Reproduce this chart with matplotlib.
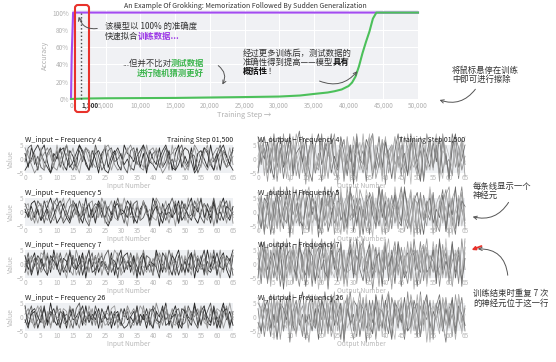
import matplotlib
matplotlib.use('Agg')
import matplotlib.pyplot as plt
import numpy as np
from matplotlib.patches import FancyArrowPatch, FancyBboxPatch
from matplotlib.transforms import IdentityTransform

plt.rcParams['font.family'] = ['Noto Sans CJK SC', 'DejaVu Sans']

# ---- top chart data ----
train_steps = [0, 100, 300, 50000]
train_acc = [0, 0.5, 1.0, 1.0]
test_steps = [0, 2000, 5000, 10000, 15000, 20000, 25000, 30000, 33000, 35000, 37000,
              38000, 39000, 40000, 40500, 41000, 41500, 42000, 42500, 43000, 43500,
              44000, 45000, 50000]
test_acc = [0, 0.005, 0.008, 0.01, 0.012, 0.017, 0.022, 0.028, 0.04, 0.058, 0.075,
            0.09, 0.11, 0.15, 0.19, 0.26, 0.38, 0.53, 0.66, 0.78, 0.93, 1.0, 1.0, 1.0]
step_ticks = [0, 1500, 5000, 10000, 15000, 20000, 25000, 30000, 35000, 40000, 45000, 50000]
step_labels = ['0', '1,500', '5,000', '10,000', '15,000', '20,000', '25,000', '30,000',
               '35,000', '40,000', '45,000', '50,000']
acc_ticks = [0, 0.2, 0.4, 0.6, 0.8, 1.0]
acc_labels = ['0%', '20%', '40%', '60%', '80%', '100%']

# ---- neuron weights at step 1,500 (one list per neuron) ----
in_f4 = [
    [2,-3,4,1,-4,3,5,-1,-5,2,0, 4,-2,-4,3,1,-3,5,2,-1,-4,3, 0,-5,2,4,-3,1,3,-2,-4,5,2, 1,-1,4,-3,2,-5,3,0,-2,4,-3, -1,3,-4,2,5,-3,1,-2,4,-4,2, 3,0,-3,5,-1,2,-4,3,1,-2,4],
    [-1,4,5,-2,1,-3,-4,2,4,-1,3, -3,1,5,-2,-4,0,3,-1,4,2,-3, 5,1,-4,-2,3,4,-1,0,2,-3,-5, 3,4,-2,1,5,-4,-1,2,3,-3,1, 4,-2,0,-4,3,5,-1,-3,2,1,-5, -2,4,3,-1,-4,2,5,0,-3,1,3],
    [4,1,-2,-5,-3,0,2,4,1,-3,-4, 0,3,5,1,-2,-4,-1,2,4,3,-1, -3,-2,1,4,5,2,-2,-4,-3,1,3, 5,2,-1,-3,-4,0,3,4,1,-2,-5, -3,1,2,4,3,-1,-4,-2,1,5,3, 0,-2,-4,-1,2,4,3,-1,-3,-2,1],
    [-4,-2,0,3,5,2,-1,-3,-5,-2,1, 3,4,0,-3,-1,2,5,3,-2,-4,-1, 2,3,0,-4,-5,-1,2,4,1,-2,0, -3,-4,1,3,5,2,-1,-2,-4,0,3, 5,1,-3,-4,-2,2,4,3,-1,-5,-3, 1,4,2,-2,-4,0,3,5,1,-2,-4],
    [0,3,-1,2,-2,4,-4,1,3,-3,5, -1,-4,2,0,4,-2,-5,1,3,-1,2, 4,-3,-1,5,2,-4,0,3,-2,1,4, -4,2,3,-1,-3,5,0,-2,4,1,-3, 2,-4,5,-1,0,3,-2,-4,1,4,-1, -3,2,5,-2,0,-4,1,3,-1,4,-2],
]
in_f5 = [
    [1,-2,3,4,0,-3,-1,2,5,1,-4, -2,3,0,-3,4,2,-1,-4,1,3,-2, 0,4,1,-3,-5,-2,2,3,-1,0,4, 2,-2,-4,1,3,0,-3,5,2,-1,-4, 1,3,-2,0,4,-3,-1,2,5,-2,-4, 0,3,1,-2,4,-4,2,5,-1,-3,2],
    [3,0,-3,-1,4,2,-4,1,-2,3,5, 0,-4,-2,2,3,-1,4,0,-3,-5,1, 3,2,-2,4,-1,-3,1,5,0,-4,2, -1,3,4,-3,-2,1,-5,2,4,-1,0, -3,2,5,1,-4,0,3,-2,-1,4,1, -2,-4,3,0,5,-1,-3,2,4,-2,0],
    [-2,1,0,-4,2,3,-1,-3,0,4,2, -1,-3,3,5,-2,1,-4,2,0,3,4, -3,-1,5,2,-4,0,1,-2,3,-1,-5, 4,1,-2,0,3,2,-4,-1,5,3,-2, 0,-4,1,4,-1,2,-3,5,0,-2,3, 4,-1,-3,2,-5,1,3,0,-2,4,-4],
    [0,-1,2,-2,1,-3,4,0,-4,-1,2, 4,1,-2,-4,0,3,-3,-1,5,-2,1, -4,3,0,-2,2,-1,4,-3,1,0,-2, 3,-4,2,-1,4,1,-3,0,2,-5,3, -1,0,-2,3,-4,4,1,-1,-3,2,0, 5,-2,1,-4,3,-1,0,-3,2,1,-1],
    [2,3,-3,0,-4,1,3,4,-2,-3,1, 2,5,-1,-2,4,0,-3,3,1,-4,-1, 2,-2,3,-4,1,4,-2,-3,0,5,1, -2,-1,3,-3,4,-1,1,-2,-3,2,0, 4,-2,1,-5,3,2,-1,-4,3,0,5, -1,3,-2,-1,2,-3,4,1,-4,3,-2],
]
in_f7 = [
    [3,-2,1,4,-4,2,-1,3,-3,5,-1, -4,2,1,-3,3,-2,0,4,-5,2,-1, 3,-3,1,0,-2,4,-4,2,5,-3,1, -1,3,-5,2,4,-2,0,-4,5,1,-3, 3,-1,-4,2,5,-2,1,-3,4,-5,2, 0,-3,5,-1,3,-4,2,4,-2,-5,3],
    [-1,4,-3,2,0,-2,5,-4,1,3,-2, 4,-1,-3,5,0,2,-4,3,-2,1,4, -4,2,-1,3,5,-3,0,-5,3,1,-2, 4,0,-3,1,-4,3,2,-1,4,-3,0, -2,5,1,-4,3,-3,2,0,-2,4,-1, 3,-4,1,-2,5,-3,0,3,-1,2,-4],
    [1,0,3,-1,2,-3,-1,4,-2,0,3, -3,1,4,-2,-4,5,1,-1,3,-3,2, 0,4,-4,1,-2,3,-1,4,-3,2,-1, 1,-4,3,-2,5,0,-3,2,-1,4,1, -3,0,4,-2,-1,3,-4,5,-2,1,3, -2,0,-4,3,1,-1,5,-3,2,0,-2],
    [-3,2,-4,0,3,1,-2,-4,3,1,-1, 2,-3,0,4,-1,-2,3,-4,1,5,-3, -2,1,3,-1,-4,2,1,-2,0,3,4, -3,2,-1,-4,3,-2,1,0,-1,-5,4, 2,-2,3,1,-4,0,-3,2,4,-1,-3, 1,5,-2,-3,0,4,-1,-2,3,1,5],
    [0,-4,2,1,-2,4,3,-3,0,-2,4, 1,-1,-5,2,3,-4,-1,1,2,-2,0, 3,-1,4,-2,-3,0,5,3,-4,-2,1, 3,-2,4,0,-1,-3,2,-4,1,3,-2, 4,-4,1,0,2,-2,3,-1,-4,5,-2, -1,2,-3,4,-2,1,-5,3,0,-3,4],
]
in_f26 = [
    [4,-3,1,2,-4,0,3,-2,5,-1,-3, 2,1,-4,3,-1,0,2,-3,4,-2,1, -1,3,-2,0,4,-4,1,2,-3,3,-1, 0,-2,4,-3,1,-4,2,3,-1,-2,0, 5,-3,1,4,-2,-4,3,0,-1,5,-3, 2,4,-2,-3,3,-4,1,5,-1,2,-3],
    [-2,1,4,-3,-1,3,-4,0,2,-2,4, -3,0,1,-1,-4,3,5,-2,-1,2,-3, 4,0,-1,1,-3,-1,2,-2,3,0,2, -4,-1,3,-2,0,1,-3,4,2,-4,3, -1,1,-4,2,3,-3,-2,4,1,-2,-4, 3,-1,2,5,-3,0,-2,4,1,-4,2],
    [1,3,-1,-4,2,4,-2,1,-3,0,2, 3,-2,-3,4,1,-1,-4,2,0,-1,3, -3,1,-4,2,1,-2,0,-1,-3,-2,4, 1,3,-1,-3,4,-2,0,-4,5,1,-3, 2,-1,3,-2,-3,1,4,-4,2,0,3, -2,1,-4,3,-1,2,-3,0,4,-2,1],
    [-1,-4,2,3,0,-2,4,-3,1,3,-1, -4,2,-2,0,3,-3,1,4,-2,1,-1, 2,-4,3,0,-1,2,-3,1,-2,-4,-3, 0,2,-3,1,-1,3,-2,-4,2,0,4, -3,-2,0,1,-4,3,2,-1,-3,4,1, -3,3,0,-2,4,-1,-4,2,3,-3,0],
    [3,0,-2,1,4,-1,-3,2,-4,1,0, -1,3,2,-4,1,-2,3,-1,-3,4,0, -2,2,1,-3,-2,3,4,-4,-1,1,3, -2,-3,0,4,2,-1,3,1,-2,-3,-1, 4,0,-2,-3,1,-1,0,3,-2,2,-1, 4,-2,-3,1,-1,3,2,-4,0,5,-1],
]
out_f4 = [
    [6,-2,8,1,-5,9,-3,4,-7,2,7, -4,5,10,-1,-6,3,8,-5,2,-8,6, 1,9,-3,-7,4,7,-2,5,-6,8, 0,3,-8,6,9,-4,2,-6,7,-1, 5,-7,3,8,-2,-5,9,1,-4,6, -8,2,7,-3,4,-6,8,0,-5,9, 3,-7,6,-2],
    [-3,7,2,-8,4,-1,6,-5,9,-2,3, 8,-6,0,5,-9,3,7,-2,-4,6,1, -7,4,9,-3,2,-6,8,-1,5,-8,3, 6,-4,1,9,-7,-2,4,7,-5,0,8, -3,5,-9,2,6,-1,-6,8,3,-4,7, -2,4,-8,9,1,-5,6,-3,2,7,-6],
    [1,5,-6,3,8,-4,-1,7,2,-7,5, -2,9,4,-5,1,-8,6,3,-3,8,-6, 2,-1,7,-9,4,6,-2,-5,8,1,-4, 9,-3,3,-7,5,1,-6,8,-2,4,-8, 6,2,-5,9,-1,-3,7,-7,4,0,5, -4,8,-6,3,1,-8,7,2,-5,6,-1],
    [-5,3,0,6,-2,-7,5,8,-3,1,9, -6,2,4,-1,7,-4,-8,5,9,-2,3, 7,-5,1,-3,8,2,-6,4,-9,6,0, -2,7,4,-5,-1,8,-3,6,1,-7,3, 9,-4,2,-6,5,7,-2,-8,4,1,-3, 6,-1,8,-5,2,-7,4,9,-3,0,5],
    [8,-1,4,-5,2,6,-8,3,-2,7,-4, 5,1,-7,8,-3,2,6,-5,0,9,-6, 3,7,-2,-4,6,-8,1,5,-3,9,-1, -5,4,8,-6,2,-3,7,-9,3,5,-2, 1,-6,8,4,-4,6,-1,3,-7,9,2, -3,5,-5,7,-2,0,-6,8,4,-4,1],
    [0,4,-4,-2,7,3,-6,1,5,-3,-8, 6,-1,3,7,-5,-2,9,-4,1,4,-7, 8,-3,-6,2,5,-1,7,-8,3,1,6, -4,-2,9,-5,3,6,-8,2,-1,5,-6, 7,-3,1,4,-9,8,2,-5,6,-1,-4, 3,9,-2,-7,5,1,-3,7,-6,2,8],
]
out_f5 = [
    [-4,6,-7,2,8,-3,5,-1,-6,9,3, -5,1,7,-8,4,-2,6,2,-9,5,-3, 8,-1,3,-6,7,1,-4,9,-7,2,5, -2,6,-8,4,1,-5,8,-3,3,-6,7, 2,-4,9,-1,-7,5,3,-8,6,0,-3, 7,-5,2,8,-6,4,-2,-8,5,1,-4],
    [3,-5,1,7,-2,-8,6,4,-3,2,-7, 9,-4,-1,5,8,-6,2,-3,7,1,-5, -2,6,-8,4,3,-6,9,-2,1,-5,8, 4,-7,-1,6,-3,9,2,-8,5,-2,3, -6,8,1,-4,7,-9,3,5,-1,-5,8, 2,-7,4,-3,6,9,-5,1,-2,7,-6],
    [7,2,-3,-6,4,9,-1,-5,8,-4,1, 6,-2,3,-7,5,9,-4,-1,8,-6,2, 4,-5,7,1,-8,3,6,-3,-1,9,-6, 2,5,-4,7,-2,1,-8,6,3,-5,9, -1,4,-7,2,8,-3,-6,5,1,-2,7, -8,3,6,-4,2,-9,5,8,-3,1,-5],
    [-1,-6,5,3,-8,2,7,-4,1,6,-9, 4,8,-3,-5,2,7,-1,4,-6,3,9, -7,-2,5,8,-3,0,-6,7,4,-4,2, -8,3,6,-1,-5,9,-2,4,-7,1,6, -3,-5,8,2,-6,4,7,-1,-8,3,5, -4,1,-2,6,-7,3,-1,9,-5,4,2],
    [5,1,-8,6,-3,4,-6,9,-2,-4,7, -1,3,-5,8,0,-7,5,1,-3,-8,6, 2,9,-4,-1,6,-7,3,8,-2,5,-9, 1,-3,7,4,-6,2,8,-5,-1,6,-4, 3,9,-2,-6,1,5,-8,7,-3,4,-1, 6,-4,-7,3,8,-2,5,-6,2,9,-3],
    [-7,3,4,-1,5,-5,1,-7,6,3,-2, -8,5,2,-2,-6,4,-8,6,2,-4,8, -5,1,3,-7,9,-3,-8,2,6,-1,4, -6,8,2,-9,5,-3,0,7,-7,3,1, -5,7,-3,4,-8,6,2,-6,5,-2,9, -1,3,-6,4,-3,7,-8,1,6,-5,2],
]
out_f7 = [
    [4,-7,8,-2,3,-5,6,-8,1,7,-3, 5,-6,9,-1,-4,7,-8,3,6,-2,4, -9,5,1,-6,8,-3,2,7,-5,3,-1, 9,-7,4,-2,6,-4,1,8,-6,5,-3, 7,-8,2,4,-5,9,-1,-3,6,-7,3, 1,-5,8,-2,4,-6,7,-3,5,-8,6],
    [-2,5,-3,7,-6,1,8,-4,6,-2,3, -7,2,5,-3,8,-5,1,-7,4,9,-6, 3,-2,7,-4,-1,5,-8,6,2,-5,8, -3,1,-6,7,3,-8,5,-2,4,-9,6, -1,3,-4,8,-6,2,5,-7,1,9,-4, 6,-3,-1,7,-5,3,-8,2,6,-4,9],
    [6,1,-5,4,-8,7,-2,3,-6,9,-4, 2,7,-3,-6,4,1,-5,8,-2,-7,6, 3,-4,9,1,-6,5,-3,-2,8,-7,4, 2,-5,8,-1,-3,6,-7,2,9,-4,1, 5,-6,3,-2,7,-9,4,1,-3,6,-5, 8,-1,-4,5,2,-7,6,-2,3,-6,4],
    [-5,8,2,-6,1,4,-3,7,-9,3,5, -1,-4,6,2,-8,5,3,-6,1,7,-3, -5,8,-2,4,6,-7,-1,5,-4,9,-2, -6,3,7,-5,2,4,-8,6,-1,3,-7, 8,1,-5,-2,6,3,-8,4,7,-3,-1, 5,-7,9,-4,1,-2,8,-5,3,-6,2],
    [2,-3,6,-7,5,-1,-6,4,8,-5,1, 7,-2,-8,3,6,-4,9,-1,-5,3,8, -6,4,2,-3,7,-6,1,9,-3,-4,6, 8,-2,5,-9,1,4,-3,7,-5,2,8, -4,6,-1,-7,3,5,-2,8,-6,4,1, -3,7,-8,2,6,-5,1,4,-7,9,-2],
    [0,6,-4,3,-2,9,-5,1,4,-8,7, -3,5,-1,-6,8,2,-4,6,-9,3,1, 7,-2,-5,6,3,-8,4,-1,5,-6,2, 8,-4,-3,7,1,-6,3,9,-2,-7,5, 2,-4,6,-3,8,-1,-5,4,7,-8,3, -2,6,1,-5,9,-3,-7,5,2,-4,8],
]
out_f26 = [
    [3,-6,5,1,-7,8,-2,4,-5,7,-9, 2,6,-3,1,-8,5,7,-4,3,-6,9, -1,-5,6,2,-8,4,7,-3,1,-7,5, 3,-9,6,-2,4,-5,8,-1,-6,7,2, -4,5,-8,3,6,-1,-7,9,-3,2,5, -6,4,8,-2,-9,3,6,-4,1,7,-5],
    [-4,2,7,-5,3,-1,6,-8,2,5,-3, 8,-6,1,4,-2,-9,3,6,-4,7,-1, 5,-7,-2,8,1,-4,6,-3,-8,2,9, -5,3,1,-6,7,-2,-4,5,9,-7,3, -1,6,-3,-5,8,2,-6,4,-2,7,-8, 1,5,-4,6,-3,2,-7,8,-1,-5,4],
    [7,1,-4,3,-2,6,-7,-1,8,-3,4, -5,2,7,-6,1,-3,8,-2,4,5,-7, 3,-1,9,-5,2,-6,8,4,-3,-1,6, -4,7,-8,2,5,-1,3,-6,9,-3,1, 6,-2,-7,4,1,-5,8,-3,6,-9,2, 4,-1,-6,7,3,-4,5,-8,2,6,-3],
    [-2,-5,3,6,-4,1,-8,5,3,-1,7, -3,-6,4,9,-2,1,-5,3,-8,6,2, -4,7,-3,1,5,-9,3,-2,6,4,-7, 1,5,-3,-6,8,2,-4,6,-1,-8,5, 3,-2,7,-5,-3,6,1,-7,4,8,-4,2, -1,6,-5,3,-2,7,-6,4,1,-3],
    [5,3,-7,2,8,-4,-1,6,-5,2,9, -3,4,-1,-7,5,8,-2,-4,7,-1,3, -6,8,2,-3,4,-7,1,9,-5,3,-2, 7,-4,-1,6,-8,3,2,-5,8,-3,6, -2,1,-6,9,-4,3,5,-7,2,-1,6, -8,4,2,-5,7,-3,1,-6,8,-2,3],
    [-6,4,0,-3,5,-8,3,7,-2,-4,6, 1,-7,3,-5,6,-1,-3,8,-6,2,-4, 7,3,-8,5,-2,6,-4,-1,7,-6,3, -2,8,-5,1,-3,6,-7,4,2,-2,-8, 5,7,-4,1,-6,3,-2,8,-5,4,-9, 6,-1,3,-4,-7,5,2,-3,8,-6,1],
]
freqs = [4, 5, 7, 26]
in_panels = [in_f4, in_f5, in_f7, in_f26]
out_panels = [out_f4, out_f5, out_f7, out_f26]
num_ticks = list(range(0, 66, 5))

W, H = 556, 362
def fx(x, y):
    return (x / W, 1 - y / H)

fig = plt.figure(figsize=(W / 100, H / 100), dpi=100)
fig.patch.set_facecolor('white')

# ---- top accuracy chart ----
ax = fig.add_axes([71 / W, 1 - 100 / H, (418 - 71) / W, 90 / H])
ax.set_facecolor('#f0f1f4')
ax.set_xlim(0, 50000)
ax.set_ylim(-0.012, 1.03)
ax.set_xticks(step_ticks)
ax.set_xticklabels(step_labels)
ax.set_yticks(acc_ticks)
ax.set_yticklabels(acc_labels)
ax.tick_params(length=0, labelsize=4.6, labelcolor='#b0b0b0', pad=1.5)
ax.grid(color='white', lw=0.8)
ax.set_axisbelow(True)
ax.xaxis.get_gridlines()[1].set_visible(False)
lbl = ax.get_xticklabels()[1]
lbl.set_fontweight('bold')
lbl.set_color('#333333')
lbl.set_horizontalalignment('left')
for s in ax.spines.values():
    s.set_visible(False)
ax.plot(train_steps, train_acc, color='#a34cf0', lw=1.5, clip_on=False)
ax.plot(test_steps, test_acc, color='#4cc05a', lw=1.5, clip_on=False)
ax.plot([1500, 1500], [0, 1], ls=':', color='#444444', lw=1)
ax.set_xlabel('Training Step →', fontsize=5.3, color='#b0b0b0', labelpad=1)
ax.set_ylabel('Accuracy', fontsize=5, color='#b0b0b0', labelpad=2)
fig.text(*fx(245, 6), 'An Example Of Grokking: Memorization Followed By Sudden Generalization',
         ha='center', va='center', fontsize=5, color='#333333')

# red highlight box
fig.patches.append(FancyBboxPatch((75, H - 112), 14, 107,
                                  boxstyle='round,pad=0,rounding_size=3',
                                  transform=IdentityTransform(), fill=False,
                                  ec='#e8322b', lw=1.5, figure=fig))

# ---- bottom weight panels ----
row_tops = [145, 198, 250, 303]
cols = [(25, 233, 'input', in_panels), (258, 465, 'output', out_panels)]
for ci, (x0, x1, kind, panels) in enumerate(cols):
    for ri, top in enumerate(row_tops):
        a = fig.add_axes([x0 / W, 1 - (top + 28) / H, (x1 - x0) / W, 28 / H])
        a.set_facecolor('#eef0f3')
        a.set_xlim(0, 65)
        a.set_ylim(-5, 5)
        a.set_xticks(num_ticks)
        a.set_yticks([-5, 0, 5])
        a.tick_params(length=0, labelsize=4.6, labelcolor='#b8b8b8', pad=1)
        for s in a.spines.values():
            s.set_visible(False)
        a.set_xlabel('Input Number' if kind == 'input' else 'Output Number',
                      fontsize=4.8, color='#b8b8b8', labelpad=-0.5)
        if ci == 0:
            a.set_ylabel('Value', fontsize=5, color='#b8b8b8', labelpad=1)
        greys = ['#222222', '#555555', '#888888', '#333333', '#999999'] if kind == 'input' \
            else ['#777777', '#999999', '#aaaaaa', '#666666', '#888888', '#bbbbbb']
        for li, vals in enumerate(panels[ri]):
            a.plot(range(len(vals)), vals, color=greys[li % len(greys)],
                   lw=0.6 if kind == 'input' else 0.55, clip_on=False)
        a.text(0.0, 1.02, f'W_{kind} − Frequency {freqs[ri]}', transform=a.transAxes,
               fontsize=5.2, color='#222222', va='bottom', ha='left')
        if ri == 0:
            a.text(1.0, 1.02, 'Training Step 01,500', transform=a.transAxes,
                   fontsize=5, color='#222222', va='bottom', ha='right')

# ---- annotations ----
def rich(x, y, parts, ha='left', size=6):
    t = None
    seq = parts if ha == 'left' else list(reversed(parts))
    for txt, col, wt in seq:
        if t is None:
            t = fig.text(*fx(x, y), txt, color=col, fontweight=wt, fontsize=size,
                         ha=ha, va='center')
        elif ha == 'left':
            t = ax.annotate(txt, xy=(1, 0.5), xycoords=t, xytext=(-0.4, 0),
                            textcoords='offset points', color=col, fontweight=wt,
                            fontsize=size, ha='left', va='center')
        else:
            t = ax.annotate(txt, xy=(0, 0.5), xycoords=t, xytext=(0.4, 0),
                            textcoords='offset points', color=col, fontweight=wt,
                            fontsize=size, ha='right', va='center')

dark = '#333333'
purple = '#9b35e6'
green = '#3db54e'
rich(105, 26, [('该模型以 100% 的准确度', dark, 'normal')])
rich(105, 36, [('快速拟合', dark, 'normal'), ('训练数据...', purple, 'bold')])
rich(204, 63, [('...但并不比对', dark, 'normal'), ('测试数据', green, 'bold')], ha='right')
rich(204, 73, [('进行随机猜测更好', green, 'bold')], ha='right')
rich(243, 53, [('经过更多训练后，测试数据的', dark, 'normal')])
rich(243, 62, [('准确性得到提高——模型', dark, 'normal'), ('具有', '#111111', 'bold')])
rich(243, 71, [('概括性', '#111111', 'bold'), ('！', dark, 'normal')])
rich(452, 70, [('将鼠标悬停在训练', dark, 'normal')])
rich(452, 79, [('中即可进行擦除', dark, 'normal')])
rich(473, 186, [('每条线显示一个', dark, 'normal')])
rich(473, 195, [('神经元', dark, 'normal')])
rich(473, 293, [('训练结束时重复 7 次', dark, 'normal')])
rich(473, 303, [('的神经元位于这一行', dark, 'normal')])

arrows = [((100, 28), (78, 14), -0.5),
          ((216, 64), (221, 87), -0.5),
          ((317, 80), (359, 69), 0.4),
          ((477, 87), (437, 99), -0.4),
          ((510, 200), (470, 216), -0.4),
          ((508, 278), (475, 249), 0.5)]
for a0, a1, rad in arrows:
    fig.patches.append(FancyArrowPatch(fx(*a0), fx(*a1), transform=fig.transFigure,
                                       connectionstyle=f'arc3,rad={rad}',
                                       arrowstyle='->', mutation_scale=6,
                                       color='#555555', lw=0.7, figure=fig))
fig.patches.append(FancyArrowPatch(fx(484, 245), fx(469, 251), transform=fig.transFigure,
                                   arrowstyle='-|>', mutation_scale=5,
                                   color='#e8322b', lw=1.3, figure=fig))

fig.savefig('out.png', dpi=100)
